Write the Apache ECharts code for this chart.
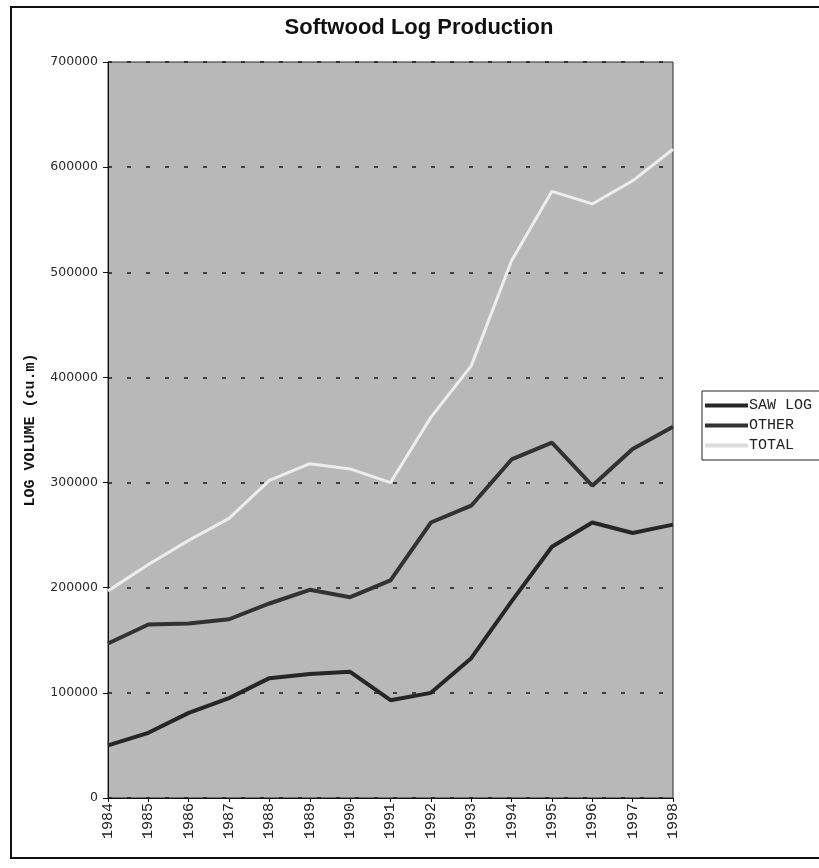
<!DOCTYPE html>
<html>
<head>
<meta charset="utf-8">
<title>Softwood Log Production</title>
<script src="https://cdn.jsdelivr.net/npm/echarts@6/dist/echarts.min.js"></script>
<style>
  html, body { margin: 0; padding: 0; background: #ffffff; }
  #chart { width: 819px; height: 868px; }
</style>
</head>
<body>
<div id="chart"></div>
<script>
// Annual softwood log volumes, cubic metres
const years = ['1984', '1985', '1986', '1987', '1988', '1989', '1990', '1991',
               '1992', '1993', '1994', '1995', '1996', '1997', '1998'];
const sawLog = [50000, 62000, 81000, 95000, 114000, 118000, 120000, 93000,
                100000, 133000, 187000, 239000, 262000, 252000, 260000];
const other  = [147000, 165000, 166000, 170000, 185000, 198000, 191000, 207000,
                262000, 278000, 322000, 338000, 297000, 332000, 353000];
const total  = [197000, 222000, 245000, 266000, 302000, 318000, 313000, 300000,
                362000, 411000, 511000, 577000, 565000, 587000, 617000];
const seriesNames = ['SAW LOG', 'OTHER', 'TOTAL'];

const mono = '"Courier New", "Liberation Mono", monospace';

const chart = echarts.init(document.getElementById('chart'), null, { renderer: 'canvas' });

chart.setOption({
  animation: false,
  backgroundColor: '#ffffff',
  graphic: [
    {
      // page frame
      type: 'rect',
      shape: { x: 11, y: 7, width: 840, height: 851 },
      style: { fill: 'none', stroke: '#111111', lineWidth: 2 },
      z: 100
    },
    {
      type: 'text',
      x: 419, y: 28,
      style: {
        text: 'Softwood Log Production',
        font: 'bold 22px "Liberation Sans Narrow", "Liberation Sans", Arial, sans-serif',
        fill: '#111111',
        textAlign: 'center',
        textVerticalAlign: 'middle'
      }
    }
  ],
  grid: {
    left: 108, right: 146, top: 62, bottom: 70,
    show: true,
    backgroundColor: '#b8b8b8',
    borderColor: '#2a2a2a',
    borderWidth: 1
  },
  legend: {
    data: seriesNames,
    orient: 'vertical',
    left: 702, top: 391,
    padding: [7, 30, 7, 3],
    itemGap: 5,
    itemWidth: 43,
    itemHeight: 4,
    icon: 'rect',
    backgroundColor: '#ffffff',
    borderColor: '#222222',
    borderWidth: 1,
    textStyle: { fontFamily: mono, fontSize: 15, color: '#222222', padding: [0, 0, 0, -4] }
  },
  xAxis: {
    type: 'category',
    data: years,
    boundaryGap: false,
    axisLine: { lineStyle: { color: '#111111', width: 1 } },
    axisTick: { show: true, length: 4, lineStyle: { color: '#111111' } },
    axisLabel: {
      rotate: 90,
      margin: 5,
      fontFamily: mono,
      fontSize: 15,
      color: '#222222'
    },
    splitLine: { show: false }
  },
  yAxis: {
    type: 'value',
    min: 0, max: 700000, interval: 100000,
    name: 'LOG VOLUME (cu.m)',
    nameLocation: 'middle',
    nameRotate: 90,
    nameGap: 70,
    nameTextStyle: { fontFamily: mono, fontSize: 15, fontWeight: 'bold', color: '#111111' },
    axisLine: { show: true, lineStyle: { color: '#111111', width: 1 } },
    axisTick: { show: true, length: 5, lineStyle: { color: '#111111' } },
    axisLabel: {
      margin: 10,
      fontFamily: '"DejaVu Sans", Verdana, sans-serif',
      fontSize: 12.5,
      color: '#2a2a2a',
      formatter: v => String(v)
    },
    splitLine: {
      show: true,
      lineStyle: { color: '#1a1a1a', width: 1.5, type: [4, 15] }
    }
  },
  series: [
    {
      name: seriesNames[0], type: 'line', data: sawLog,
      symbol: 'none', lineStyle: { color: '#262626', width: 4 }, itemStyle: { color: '#262626' }
    },
    {
      name: seriesNames[1], type: 'line', data: other,
      symbol: 'none', lineStyle: { color: '#323232', width: 4 }, itemStyle: { color: '#323232' }
    },
    {
      name: seriesNames[2], type: 'line', data: total,
      symbol: 'none', lineStyle: { color: '#ededed', width: 3 }, itemStyle: { color: '#dcdcdc' }
    }
  ]
});
</script>
</body>
</html>
